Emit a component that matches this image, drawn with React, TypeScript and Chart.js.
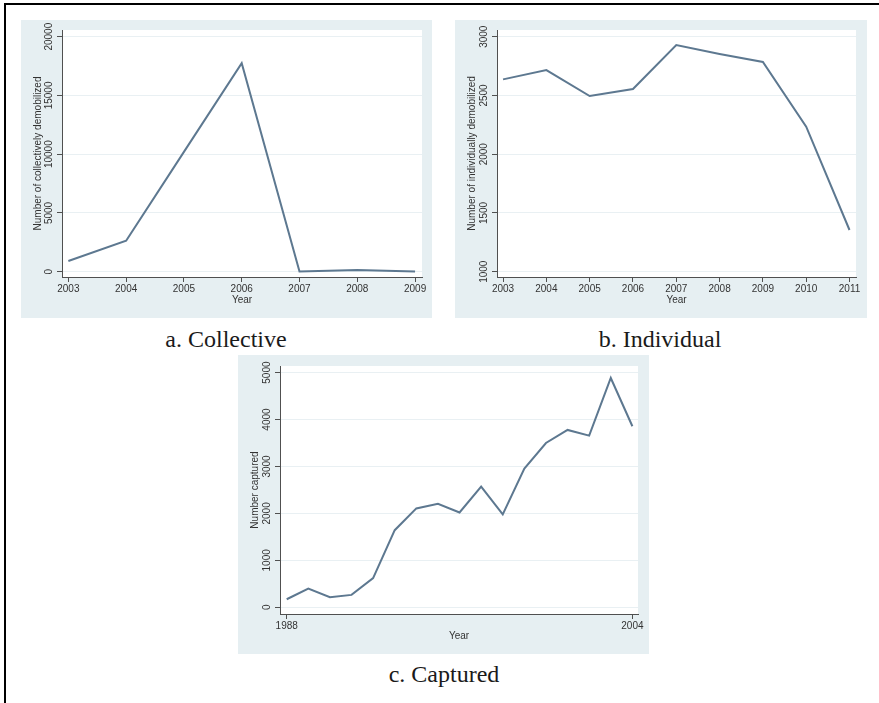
import React, { useEffect, useRef } from "react";
import { Chart, registerables } from "chart.js";

Chart.register(...registerables);

// ---- Data ----
const collectiveYears = [2003, 2004, 2005, 2006, 2007, 2008, 2009];
const collectiveValues = [910, 2640, 10200, 17750, 20, 150, 20];
const collectiveYTicks = [0, 5000, 10000, 15000, 20000];
const collectiveXTicks = [2003, 2004, 2005, 2006, 2007, 2008, 2009];

const individualYears = [2003, 2004, 2005, 2006, 2007, 2008, 2009, 2010, 2011];
const individualValues = [2637, 2716, 2495, 2555, 2929, 2853, 2785, 2234, 1355];
const individualYTicks = [1000, 1500, 2000, 2500, 3000];
const individualXTicks = [2003, 2004, 2005, 2006, 2007, 2008, 2009, 2010, 2011];

const capturedYears = [1988, 1989, 1990, 1991, 1992, 1993, 1994, 1995, 1996, 1997, 1998, 1999, 2000, 2001, 2002, 2003, 2004];
const capturedValues = [171, 400, 214, 264, 621, 1643, 2107, 2207, 2021, 2571, 1979, 2957, 3500, 3779, 3657, 4886, 3857];
const capturedYTicks = [0, 1000, 2000, 3000, 4000, 5000];
const capturedXTicks = [1988, 2004];

// ---- Styles ----
const SANS = '"Liberation Sans", Arial, Helvetica, sans-serif';
const SERIF = '"Liberation Serif", "Times New Roman", serif';
const BG = "#e6eff2";
const LINE = "#5d7890";
const AXIS = "#505050";
const TEXT = "#333333";
const GRID = "#e9f0f3";

const stataPlugin = {
  id: "stataPlot",
  beforeDraw(chart: any) {
    const { ctx, chartArea: a } = chart;
    ctx.save();
    ctx.fillStyle = "#ffffff";
    ctx.fillRect(a.left, a.top, a.right - a.left, a.bottom - a.top);
    ctx.restore();
  },
  afterDraw(chart: any) {
    const y = chart.scales.y;
    const ctx = chart.ctx;
    ctx.save();
    ctx.fillStyle = TEXT;
    ctx.font = `10px ${SANS}`;
    ctx.textAlign = "center";
    ctx.textBaseline = "middle";
    y.ticks.forEach((t: any) => {
      const py = y.getPixelForValue(t.value);
      ctx.save();
      ctx.translate(chart.chartArea.left - 12.5, py);
      ctx.rotate(-Math.PI / 2);
      ctx.fillText(String(t.value), 0, 0);
      ctx.restore();
    });
    ctx.restore();
  },
};

type PanelProps = {
  box: { x: number; y: number; w: number; h: number };
  inset: { left: number; right: number; top: number; bottom: number };
  xs: number[];
  ys: number[];
  xTicks: number[];
  yTicks: number[];
  xRange: [number, number];
  yRange: [number, number];
  yTitle: string;
};

function Panel(p: PanelProps) {
  const ref = useRef<HTMLCanvasElement | null>(null);
  useEffect(() => {
    if (!ref.current) return;
    const chart = new Chart(ref.current, {
      type: "line",
      data: {
        datasets: [
          {
            data: p.xs.map((x, i) => ({ x, y: p.ys[i] })),
            borderColor: LINE,
            borderWidth: 2,
            pointRadius: 0,
            tension: 0,
            fill: false,
          },
        ],
      },
      options: {
        responsive: false,
        animation: false,
        devicePixelRatio: 1,
        layout: { padding: { left: 0, right: p.inset.right, top: p.inset.top, bottom: 0 } },
        plugins: { legend: { display: false }, tooltip: { enabled: false } },
        scales: {
          x: {
            type: "linear",
            min: p.xRange[0],
            max: p.xRange[1],
            afterBuildTicks: (s: any) => {
              s.ticks = p.xTicks.map((v) => ({ value: v }));
            },
            afterFit: (s: any) => {
              s.height = p.inset.bottom;
            },
            ticks: {
              autoSkip: false,
              maxRotation: 0,
              minRotation: 0,
              padding: 1,
              color: TEXT,
              font: { family: SANS, size: 10 },
              callback: (v: any) => String(v),
            },
            grid: { drawOnChartArea: false, drawTicks: true, tickLength: 5, tickColor: AXIS, color: AXIS },
            border: { display: true, color: AXIS, width: 1 },
            title: {
              display: true,
              text: "Year",
              color: TEXT,
              font: { family: SANS, size: 10 },
              padding: { top: 0, bottom: 11.3 },
            },
          },
          y: {
            type: "linear",
            min: p.yRange[0],
            max: p.yRange[1],
            afterBuildTicks: (s: any) => {
              s.ticks = p.yTicks.map((v) => ({ value: v }));
            },
            afterFit: (s: any) => {
              s.width = p.inset.left;
            },
            ticks: {
              autoSkip: false,
              color: "rgba(0,0,0,0)",
              font: { family: SANS, size: 10 },
              callback: (v: any) => String(v),
            },
            grid: { drawOnChartArea: true, drawTicks: true, tickLength: 5, tickColor: AXIS, color: GRID, lineWidth: 1 },
            border: { display: true, color: AXIS, width: 1 },
            title: {
              display: true,
              text: p.yTitle,
              color: TEXT,
              font: { family: SANS, size: 10 },
              padding: { top: 11.5, bottom: 0 },
            },
          },
        },
      },
      plugins: [stataPlugin],
    } as any);
    return () => chart.destroy();
  }, []);
  return (
    <canvas
      ref={ref}
      width={p.box.w}
      height={p.box.h}
      style={{
        position: "absolute",
        left: p.box.x,
        top: p.box.y,
        width: p.box.w,
        height: p.box.h,
        background: BG,
      }}
    />
  );
}

function Caption({ text, cx, top }: { text: string; cx: number; top: number }) {
  return (
    <div
      style={{
        position: "absolute",
        left: cx - 150,
        top,
        width: 300,
        textAlign: "center",
        fontFamily: SERIF,
        fontSize: 24,
        lineHeight: "24px",
        color: "#1a1a1a",
        whiteSpace: "nowrap",
      }}
    >
      {text}
    </div>
  );
}

export default function App() {
  return (
    <div
      style={{
        position: "fixed",
        left: 0,
        top: 0,
        width: 879,
        height: 703,
        background: "#ffffff",
        overflow: "hidden",
      }}
    >
      <div style={{ position: "absolute", left: 4, top: 3, width: 875, height: 2, background: "#000" }} />
      <div style={{ position: "absolute", left: 4, top: 3, width: 2, height: 700, background: "#000" }} />

      <Panel
        box={{ x: 21, y: 20, w: 411, h: 298 }}
        inset={{ left: 41, right: 10, top: 10, bottom: 41 }}
        xs={collectiveYears}
        ys={collectiveValues}
        xTicks={collectiveXTicks}
        yTicks={collectiveYTicks}
        xRange={[2002.89, 2009.12]}
        yRange={[-450, 20570]}
        yTitle="Number of collectively demobilized"
      />
      <Panel
        box={{ x: 455, y: 20, w: 412, h: 298 }}
        inset={{ left: 42, right: 11, top: 10, bottom: 41 }}
        xs={individualYears}
        ys={individualValues}
        xTicks={individualXTicks}
        yTicks={individualYTicks}
        xRange={[2002.86, 2011.15]}
        yRange={[955, 3057]}
        yTitle="Number of individually demobilized"
      />
      <Panel
        box={{ x: 238, y: 355, w: 411, h: 299 }}
        inset={{ left: 42, right: 11, top: 11, bottom: 40 }}
        xs={capturedYears}
        ys={capturedValues}
        xTicks={capturedXTicks}
        yTicks={capturedYTicks}
        xRange={[1987.69, 2004.26]}
        yRange={[-143, 5141]}
        yTitle="Number captured"
      />

      <Caption text="a. Collective" cx={226} top={327} />
      <Caption text="b. Individual" cx={660} top={327} />
      <Caption text="c. Captured" cx={444} top={662} />
    </div>
  );
}
